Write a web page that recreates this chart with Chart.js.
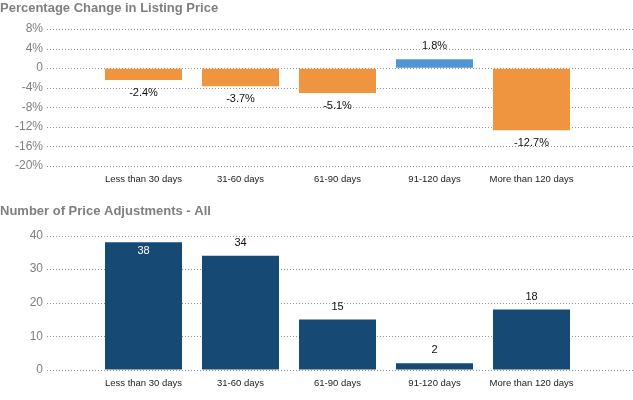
<!DOCTYPE html>
<html>
<head>
<meta charset="utf-8">
<script src="https://cdn.jsdelivr.net/npm/chart.js@4.4.1/dist/chart.umd.min.js"></script>
<style>
  html, body { margin: 0; padding: 0; background: #fff; }
  .box { position: relative; width: 633px; height: 200px; }
</style>
</head>
<body>
<div class="box"><canvas id="pctChart"></canvas></div>
<div class="box"><canvas id="adjChart"></canvas></div>
<script>
/* Two stacked bar charts: % change in listing price, number of price adjustments */
var categories = ["Less than 30 days", "31-60 days", "61-90 days", "91-120 days", "More than 120 days"];
var pctChange = [-2.4, -3.7, -5.1, 1.8, -12.7];
var adjustments = [38, 34, 15, 2, 18];
var pctTicks = [8, 4, 0, -4, -8, -12, -16, -20];
var adjTicks = [40, 30, 20, 10, 0];

var orange = "#f0953f";
var blue = "#5096d2";
var navy = "#164a75";
var gridColor = "#8c9099";
var axisFont = "Liberation Sans, Arial, sans-serif";

// dotted horizontal lines spanning past the plot area, like the original
var dottedGrid = {
  id: "dottedGrid",
  beforeDatasetsDraw: function (chart) {
    var ctx = chart.ctx, y = chart.scales.y;
    ctx.save();
    ctx.strokeStyle = gridColor;
    ctx.lineWidth = 1;
    ctx.setLineDash([1, 2]);
    y.ticks.forEach(function (t) {
      var py = Math.round(y.getPixelForValue(t.value)) + 0.5;
      ctx.beginPath();
      ctx.moveTo(47, py);
      ctx.lineTo(chart.width, py);
      ctx.stroke();
    });
    ctx.restore();
  }
};

var valueLabels = {
  id: "valueLabels",
  afterDatasetsDraw: function (chart, args, opts) {
    var ctx = chart.ctx;
    var meta = chart.getDatasetMeta(0);
    var values = chart.data.datasets[0].data;
    ctx.save();
    ctx.font = "11px " + axisFont;
    ctx.textAlign = "center";
    ctx.textBaseline = "middle";
    meta.data.forEach(function (bar, i) {
      var v = values[i];
      var ty = v < 0 ? bar.y + 13 : bar.y - 13;
      ctx.fillStyle = "#111";
      if (ty - 6 < chart.chartArea.top) { ty = bar.y + 9; ctx.fillStyle = "#fff"; }
      ctx.fillText(opts.fmt(v), bar.x, ty);
    });
    ctx.restore();
  }
};

function barChart(id, values, colors, tickList, title, titlePad, xHeight, fmt) {
  var ctx = document.getElementById(id).getContext("2d");
  return new Chart(ctx, {
    type: "bar",
    data: {
      labels: categories,
      datasets: [{ data: values, backgroundColor: colors, barPercentage: 1, categoryPercentage: 0.794 }]
    },
    options: {
      responsive: true,
      maintainAspectRatio: false,
      animation: false,
      layout: { padding: { left: 0, right: 53, top: 0, bottom: 0 } },
      plugins: {
        legend: { display: false },
        tooltip: { enabled: false },
        title: {
          display: true, text: title, align: "start", color: "#7f7f7f",
          font: { family: axisFont, size: 13, weight: "bold" },
          padding: titlePad
        },
        valueLabels: { fmt: fmt }
      },
      scales: {
        x: {
          grid: { display: false, drawTicks: false },
          border: { display: false },
          ticks: { color: "#222", padding: 8, maxRotation: 0, autoSkip: false, font: { family: axisFont, size: 9.5 } },
          afterFit: function (s) { s.height = xHeight; }
        },
        y: {
          min: tickList[tickList.length - 1],
          max: tickList[0],
          afterBuildTicks: function (s) { s.ticks = tickList.map(function (v) { return { value: v }; }); },
          grid: { display: true, drawOnChartArea: false, drawTicks: true, tickLength: 48, color: "rgba(0,0,0,0)", tickColor: "rgba(0,0,0,0)" },
          border: { display: false },
          ticks: { color: "#7f7f7f", padding: 4, font: { family: axisFont, size: 12 }, callback: fmt.tick },
          afterFit: function (s) { s.width = 95; }
        }
      }
    },
    plugins: [dottedGrid, valueLabels]
  });
}

function pctFmt(v) { return v.toFixed(1) + "%"; }
pctFmt.tick = function (v) { return v === 0 ? "0" : v + "%"; };
function cntFmt(v) { return String(v); }
cntFmt.tick = function (v) { return String(v); };

barChart("pctChart", pctChange,
  pctChange.map(function (v) { return v < 0 ? orange : blue; }),
  pctTicks, "Percentage Change in Listing Price", { top: 1, bottom: 12.4 }, 34, pctFmt);

barChart("adjChart", adjustments, navy,
  adjTicks, "Number of Price Adjustments - All", { top: 4, bottom: 15.9 }, 30, cntFmt);
</script>
</body>
</html>
